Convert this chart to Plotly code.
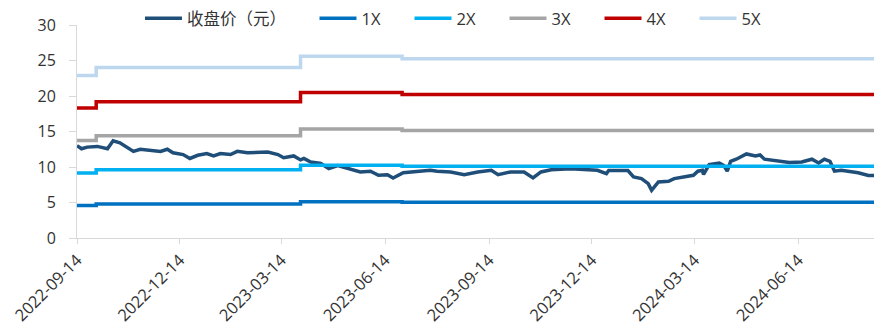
import plotly.graph_objects as go

# Daily closing price (yuan), sampled
price_dates = [
    "2022-09-14", "2022-09-18", "2022-09-23", "2022-10-02", "2022-10-11", "2022-10-16",
    "2022-10-22", "2022-10-28", "2022-11-03", "2022-11-09", "2022-11-18", "2022-11-27",
    "2022-12-03", "2022-12-08", "2022-12-17", "2022-12-23", "2022-12-30", "2023-01-07",
    "2023-01-13", "2023-01-19", "2023-01-28", "2023-02-03", "2023-02-12", "2023-02-21",
    "2023-03-02", "2023-03-11", "2023-03-16", "2023-03-25", "2023-03-31", "2023-04-03",
    "2023-04-09", "2023-04-18", "2023-04-25", "2023-05-03", "2023-05-12", "2023-05-23",
    "2023-06-01", "2023-06-08", "2023-06-16", "2023-06-21", "2023-06-30", "2023-07-13",
    "2023-07-24", "2023-07-30", "2023-08-11", "2023-08-23", "2023-09-04", "2023-09-16",
    "2023-09-22", "2023-10-03", "2023-10-15", "2023-10-23", "2023-10-30", "2023-11-08",
    "2023-11-25", "2023-12-19", "2023-12-27", "2023-12-29", "2024-01-15", "2024-01-20",
    "2024-01-27", "2024-02-02", "2024-02-05", "2024-02-11", "2024-02-20", "2024-02-25",
    "2024-03-05", "2024-03-13", "2024-03-17", "2024-03-21", "2024-03-22", "2024-03-27",
    "2024-04-05", "2024-04-09", "2024-04-12", "2024-04-15", "2024-04-20", "2024-04-29",
    "2024-05-07", "2024-05-11", "2024-05-15", "2024-05-20", "2024-05-28", "2024-06-06",
    "2024-06-17", "2024-06-26", "2024-07-02", "2024-07-07", "2024-07-12", "2024-07-16",
    "2024-07-22", "2024-07-28", "2024-08-06", "2024-08-15", "2024-08-20",
]
price_vals = [
    13.0, 12.57, 12.8, 12.9, 12.57, 13.7,
    13.4, 12.8, 12.2, 12.5, 12.34, 12.2,
    12.5, 12.0, 11.75, 11.2, 11.65, 11.9,
    11.56, 11.9, 11.75, 12.2, 12.0, 12.1,
    12.1, 11.75, 11.3, 11.56, 11.0, 11.2,
    10.7, 10.5, 9.77, 10.2, 9.77, 9.3,
    9.4, 8.83, 8.9, 8.46, 9.2, 9.4,
    9.54, 9.4, 9.3, 8.93, 9.3, 9.54,
    8.93, 9.3, 9.3, 8.46, 9.3, 9.6,
    9.77, 9.54, 9.07, 9.5, 9.5, 8.6,
    8.36, 7.66, 6.72, 7.9, 7.98, 8.36,
    8.6, 8.83, 9.41, 9.55, 8.95, 10.33,
    10.56, 10.2, 9.41, 10.79, 11.1, 11.84,
    11.57, 11.7, 11.1, 11.0, 10.79, 10.65,
    10.7, 11.1, 10.56, 11.1, 10.79, 9.41,
    9.55, 9.41, 9.18, 8.82, 8.82,
]

# Book value per share, stepping at each report date
bvps_dates = ["2022-09-14", "2022-10-01", "2023-03-31", "2023-06-29", "2024-08-20"]
bvps_vals = [4.58, 4.80, 5.12, 5.05, 5.05]

multiples = [1, 2, 3, 4, 5]
multiple_names = ["1X", "2X", "3X", "4X", "5X"]
multiple_colors = ["#0070C0", "#00B0F0", "#A5A5A5", "#C00000", "#BDD7EE"]

tick_dates = ["2022-09-14", "2022-12-14", "2023-03-14", "2023-06-14",
              "2023-09-14", "2023-12-14", "2024-03-14", "2024-06-14"]

FONT = "Open Sans, Noto Sans CJK SC, sans-serif"
TEXT = "#333333"

fig = go.Figure()

fig.add_trace(go.Scatter(
    x=price_dates, y=price_vals, mode="lines", name="收盘价（元）",
    line=dict(color="#1F4E79", width=3.5), legend="legend",
))

for m, name, color in zip(multiples, multiple_names, multiple_colors):
    fig.add_trace(go.Scatter(
        x=bvps_dates, y=[v * m for v in bvps_vals], mode="lines", name=name,
        line=dict(color=color, width=3.5, shape="hv"), legend="legend2",
    ))

fig.update_layout(
    width=874, height=334,
    margin=dict(l=77, r=0, t=25, b=96),
    paper_bgcolor="white", plot_bgcolor="white",
    font=dict(family=FONT, size=16, color=TEXT),
    showlegend=True,
    legend=dict(
        orientation="h", x=0.079, xanchor="left", y=1.03, yanchor="middle",
        font=dict(size=16.5, color=TEXT), bgcolor="rgba(0,0,0,0)",
        itemwidth=37,
    ),
    legend2=dict(
        orientation="h", x=0.298, xanchor="left", y=1.03, yanchor="middle",
        font=dict(size=16.5, color=TEXT), bgcolor="rgba(0,0,0,0)",
        itemwidth=37, entrywidth=43, entrywidthmode="pixels",
    ),
)

fig.update_xaxes(
    type="date", range=["2022-09-14", "2024-08-20"],
    tickmode="array", tickvals=tick_dates, ticktext=tick_dates,
    tickangle=-45, tickfont=dict(size=16.5, color=TEXT),
    showline=True, linecolor="#D9D9D9", linewidth=1,
    ticks="outside", ticklen=5, tickcolor="#D9D9D9",
    showgrid=False, zeroline=False, automargin=False,
)
fig.update_yaxes(
    range=[0, 30], dtick=5, tick0=0,
    tickfont=dict(size=16, color=TEXT),
    showline=True, linecolor="#D9D9D9", linewidth=1,
    ticks="outside", ticklen=7, tickcolor="#D9D9D9",
    ticklabelstandoff=10,
    showgrid=False, zeroline=False, automargin=False,
)

fig.write_html("out.html")
